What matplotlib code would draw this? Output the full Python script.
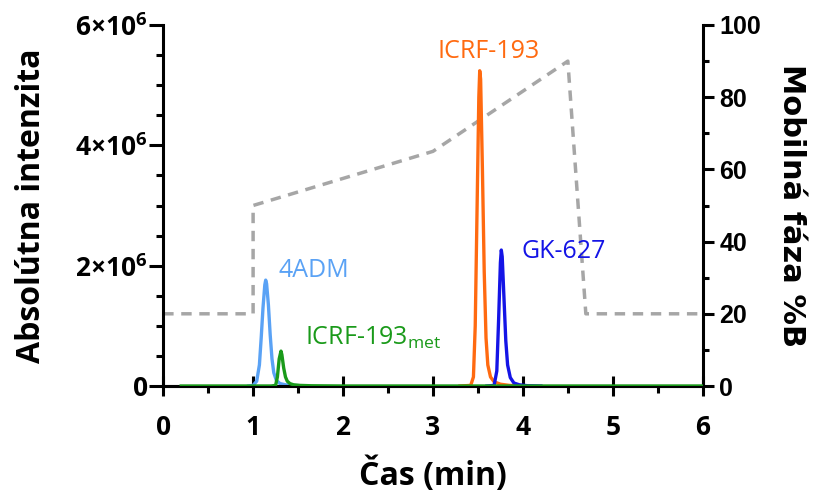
import matplotlib
matplotlib.use("Agg")
import matplotlib.pyplot as plt
from matplotlib.ticker import MultipleLocator

plt.rcParams['font.family'] = ['Open Sans', 'DejaVu Sans']
plt.rcParams['mathtext.fontset'] = 'custom'
plt.rcParams['mathtext.rm'] = 'Open Sans'
plt.rcParams['mathtext.bf'] = 'Open Sans:bold'

# ---- data ----
t_4adm = [0.95, 1.00, 1.04, 1.07, 1.09, 1.11, 1.13, 1.14, 1.15, 1.17, 1.19, 1.21, 1.23, 1.26, 1.30, 1.36, 1.45, 1.60]
i_4adm = [0, 0.01e6, 0.08e6, 0.35e6, 0.80e6, 1.30e6, 1.68e6, 1.76e6, 1.70e6, 1.35e6, 0.85e6, 0.45e6, 0.22e6, 0.09e6, 0.04e6, 0.02e6, 0.01e6, 0]

t_met = [0.20, 1.20, 1.25, 1.27, 1.29, 1.31, 1.32, 1.34, 1.36, 1.38, 1.41, 1.45, 1.52, 1.65, 2.00, 6.00]
i_met = [0, 0, 0.01e6, 0.15e6, 0.45e6, 0.58e6, 0.52e6, 0.30e6, 0.15e6, 0.08e6, 0.04e6, 0.02e6, 0.01e6, 0.004e6, 0, 0]

t_icrf = [3.30, 3.42, 3.45, 3.47, 3.49, 3.51, 3.52, 3.53, 3.55, 3.57, 3.59, 3.61, 3.64, 3.68, 3.75, 3.85, 4.00]
i_icrf = [0, 0.01e6, 0.15e6, 1.0e6, 2.9e6, 4.8e6, 5.24e6, 5.1e6, 3.6e6, 1.9e6, 0.8e6, 0.35e6, 0.15e6, 0.07e6, 0.03e6, 0.01e6, 0]

t_gk = [3.60, 3.68, 3.71, 3.73, 3.75, 3.76, 3.77, 3.79, 3.81, 3.83, 3.86, 3.90, 3.96, 4.05, 4.20]
i_gk = [0, 0.01e6, 0.25e6, 1.1e6, 2.05e6, 2.26e6, 2.15e6, 1.45e6, 0.75e6, 0.35e6, 0.14e6, 0.05e6, 0.02e6, 0.005e6, 0]

t_grad = [0.0, 1.0, 1.0, 3.0, 4.5, 4.7, 6.0]
b_grad = [20, 20, 50, 65, 90, 20, 20]

x_ticks = [0, 1, 2, 3, 4, 5, 6]
y_ticks = [0, 2e6, 4e6, 6e6]
y_ticklabels = [r'$\mathbf{0}$', r'$\mathbf{2{\times}10^{6}}$', r'$\mathbf{4{\times}10^{6}}$', r'$\mathbf{6{\times}10^{6}}$']
y2_ticks = [0, 20, 40, 60, 80, 100]

c_4adm = '#5aa2f5'
c_met = '#1a9a1a'
c_icrf = '#ff6a10'
c_gk = '#1414e6'
c_grad = '#a6a6a6'

fig = plt.figure(figsize=(8.2, 5.0), dpi=100)
ax = fig.add_axes([0.199, 0.228, 0.658, 0.722])
ax2 = ax.twinx()
ax.set_zorder(ax2.get_zorder() + 1)
ax.patch.set_visible(False)

ax2.plot(t_grad, b_grad, color=c_grad, lw=2.5, ls=(0, (3, 2.2)))
ax2.set_ylim(0, 100)

lw = 2.4
ax.plot(t_4adm, i_4adm, color=c_4adm, lw=lw)
ax.plot(t_met, i_met, color=c_met, lw=lw, zorder=3)
ax.plot(t_icrf, i_icrf, color=c_icrf, lw=lw)
ax.plot(t_gk, i_gk, color=c_gk, lw=lw)

ax.set_xlim(0, 6)
ax.set_ylim(0, 6e6)

ax.spines['top'].set_visible(False)
ax2.spines['top'].set_visible(False)
ax.spines['right'].set_visible(False)
ax2.spines['left'].set_visible(False)
for a in (ax, ax2):
    for s in a.spines.values():
        s.set_linewidth(2.2)

ax.set_xticks(x_ticks)
ax.xaxis.set_minor_locator(MultipleLocator(0.5))
ax.set_yticks(y_ticks)
ax.set_yticklabels(y_ticklabels)
ax.yaxis.set_minor_locator(MultipleLocator(0.5e6))
ax2.set_yticks(y2_ticks)
ax2.yaxis.set_minor_locator(MultipleLocator(10))

ax.tick_params(axis='x', which='major', direction='inout', length=14, width=2.2, labelsize=19, pad=13)
ax.tick_params(axis='x', which='minor', direction='out', length=5, width=2.2)
ax.tick_params(axis='y', which='major', direction='out', length=10, width=2.2, labelsize=19, pad=1)
ax.tick_params(axis='y', which='minor', direction='out', length=5, width=2.2)
ax2.tick_params(axis='y', which='major', direction='out', length=8, width=2.2, labelsize=18, pad=4)
ax2.tick_params(axis='y', which='minor', direction='out', length=4.5, width=2.2)

for lab in ax.get_xticklabels():
    lab.set_fontweight('bold')
for lab in ax2.get_yticklabels():
    lab.set_fontweight('bold')
    lab.set_family(['Liberation Sans', 'DejaVu Sans'])

ax.set_xlabel('Čas (min)', fontsize=23, fontweight='bold', labelpad=12)
ax.set_ylabel('Absolútna intenzita', fontsize=23, fontweight='bold', labelpad=20)
ax2.set_ylabel('Mobilná fáza %B', fontsize=22, fontweight='bold', rotation=-90,
               labelpad=32, family=['DejaVu Sans'])

ax.text(1.28, 1.81e6, '4ADM', color=c_4adm, fontsize=18, va='baseline', ha='left')
ax.text(1.58, 0.68e6, r'ICRF-193$_{\mathrm{met}}$', color=c_met, fontsize=18, va='baseline', ha='left')
ax.text(3.05, 5.45e6, 'ICRF-193', color=c_icrf, fontsize=18, va='baseline', ha='left')
ax.text(3.99, 2.12e6, 'GK-627', color=c_gk, fontsize=18, va='baseline', ha='left')

fig.savefig('out.png', dpi=100)
